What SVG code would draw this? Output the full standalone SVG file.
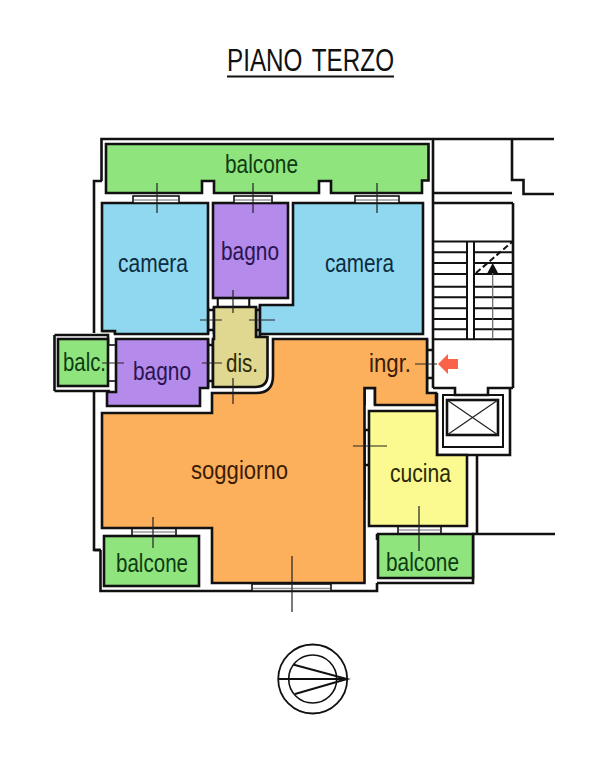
<svg xmlns="http://www.w3.org/2000/svg" width="608" height="768" viewBox="0 0 608 768">
<style>
.room{stroke:#111;stroke-width:2.6;stroke-linejoin:miter}
.wall{fill:none;stroke:#111;stroke-width:2.6}
.thin{fill:none;stroke:#111;stroke-width:2}
.hair{fill:none;stroke:#222;stroke-width:1.2}
.win{fill:#fff;stroke:#111;stroke-width:1.6}
.sill{stroke:#999;stroke-width:1.6;fill:none}
.lead{stroke:#222;stroke-width:1.2;fill:none}
text{font-family:"Liberation Sans",Arial,sans-serif;font-size:25.5px;fill:#111}
.g{fill:#0e3a12}.b{fill:#0d2b3f}.p{fill:#2a1450}.o{fill:#3a1c05}.y{fill:#2c2a08}
</style>
<rect width="608" height="768" fill="#fff"/>
<g id="title"><text x="227" y="71" style="font-size:32px;word-spacing:4px" textLength="167" lengthAdjust="spacingAndGlyphs">PIANO TERZO</text><path d="M227 76.5H394" stroke="#111" stroke-width="1.8"/></g>
<g id="walls">
<path class="wall" d="M101.500 181V139H554M512 139V180H523.500V194H554M433 193H512M433 139V388M94 333V181H102M94 391V550H101M100.500 550V591H377V583M377 583H473V535M377 534V540M477 455V534M472 534H555M513 203V388M433 203H513M364.500 405V388H375V405M54.500 335H108V345M54.500 391H110M54.500 335V391M427 339V393M433 388H455V395H488V388H513M437 393V455H510V388M102 331H115V334"/>
<path class="wall" d="M100.500 550H94"/>
<path class="wall" d="M208 307V334M214 307V334M256 307V337M260 305V337M247 337H266M218 298V307M249 298V307M208 339V388M213 339V388M208 310H214M208 330H214M256 310H260M256 330H260M208 345H213M208 381H213M427 350H433M427 378H433M364.500 430V500M369 430H364M369 465H364"/>
<rect class="thin" x="443" y="395" width="60" height="52"/>
<rect class="wall" x="447" y="400" width="51" height="35"/>
<path class="hair" d="M447 400L498 435M498 400L447 435"/>
<path class="thin" d="M433 241.500H513M433 252.300H467M474 252.300H513M433 263H467M474 263H513M433 274H467M474 274H513M433 286.700H467M474 286.700H513M433 297.300H467M474 297.300H513M433 308.300H467M474 308.300H513M433 319H467M474 319H513M433 329.300H467M474 329.300H513M433 339.300H513M467 241.500V339.300M474 241.500V339.300"/>
<path d="M476 273L512 242" fill="none" stroke="#111" stroke-width="2" stroke-dasharray="6 3"/>
<path d="M492.700 339V270" stroke="#666" stroke-width="1.2" fill="none"/>
<path d="M492.700 263L498 273H487.400Z" fill="#111"/>
</g>
<g id="balcone-top"><path class="room" fill="#8fe47e" d="M106 144H428.500V180.500H422V193H331V181H319V193H214V181H202V193H106Z"/><text class="g" x="225" y="173" textLength="73" lengthAdjust="spacingAndGlyphs">balcone</text></g>
<g id="camera-left"><path class="room" fill="#90d8f0" d="M102 203H208V334H115V331H102Z"/><text class="b" x="118" y="272" textLength="70" lengthAdjust="spacingAndGlyphs">camera</text></g>
<g id="bagno-top"><rect class="room" fill="#b48aea" x="213" y="203" width="75" height="95"/><text class="p" x="221" y="260" textLength="58" lengthAdjust="spacingAndGlyphs">bagno</text></g>
<g id="camera-right"><path class="room" fill="#90d8f0" d="M293 203H423V334H260V305H293Z"/><text class="b" x="325" y="272" textLength="69" lengthAdjust="spacingAndGlyphs">camera</text></g>
<g id="dis"><path class="room" fill="#e0d890" d="M214 307H256V337H267.500V375Q267.500 387 255 387H213V339H214Z"/><text class="y" x="226" y="372" textLength="32" lengthAdjust="spacingAndGlyphs">dis.</text></g>
<g id="balc"><rect class="room" fill="#8fe47e" x="58" y="339" width="50" height="47"/><text class="g" x="63" y="371" textLength="43" lengthAdjust="spacingAndGlyphs">balc.</text></g>
<g id="bagno-left"><path class="room" fill="#b48aea" d="M116 339H208V388H200V406H107V392H116Z"/><text class="p" x="133" y="380" textLength="58" lengthAdjust="spacingAndGlyphs">bagno</text></g>
<g id="soggiorno"><path class="room" fill="#fdb05c" d="M273 339H427V393H436V405H375V388H364.500V583H212V528H102V413H212V393H256Q273 393 273 376Z"/><text class="o" x="191" y="479" textLength="97" lengthAdjust="spacingAndGlyphs">soggiorno</text><text class="o" x="369" y="372" textLength="42" lengthAdjust="spacingAndGlyphs">ingr.</text></g>
<g id="cucina"><path class="room" fill="#fafa90" d="M369 411H437V455H467V526H369Z"/><text class="y" x="390" y="482" textLength="61" lengthAdjust="spacingAndGlyphs">cucina</text></g>
<g id="balcone-left"><rect class="room" fill="#8fe47e" x="104" y="536" width="95" height="50"/><text class="g" x="116" y="572" textLength="72" lengthAdjust="spacingAndGlyphs">balcone</text></g>
<g id="balcone-right"><path class="room" fill="#8fe47e" d="M378 534H473V578H378Z"/><text class="g" x="386" y="571" textLength="73" lengthAdjust="spacingAndGlyphs">balcone</text></g>
<g id="windows">
<rect class="win" x="133" y="196" width="46" height="7"/><rect class="win" x="234" y="196" width="38" height="7"/><rect class="win" x="355" y="196" width="44" height="7"/><rect class="win" x="132" y="528.500" width="44" height="7"/><rect class="win" x="252" y="584" width="79" height="7"/><rect class="win" x="398" y="526.500" width="43" height="7"/><rect class="win" x="108.500" y="345" width="7" height="36"/><rect class="win" x="218" y="298.500" width="31" height="8"/>
<path class="sill" d="M134 200H178M235 200H271M356 200H398M133 532H175M253 588.500H330M399 530H440"/>
</g>
<g id="connectors">
<path class="lead" d="M157 183V213M253 183V213M377 183V213M233 290V313M200 320H222M249 320H275M102 363H124M202 363H222M233 378V404M415 364H437M353 446H387M153 517V548M292 556V612M419 506V551"/>
</g>
<g id="entrance-arrow"><path d="M438 364L448 354V359H458V369H448V374Z" fill="#f9634a"/></g>
<g id="compass" fill="none" stroke="#111">
<circle cx="312.700" cy="679" r="34.500" stroke-width="1.800"/><circle cx="312.700" cy="679" r="24" stroke-width="1.600"/>
<path d="M278 679H347" stroke-width="2.200"/>
<path d="M293 664.500L347 679L295 694" stroke-width="2"/>
</g>
</svg>
